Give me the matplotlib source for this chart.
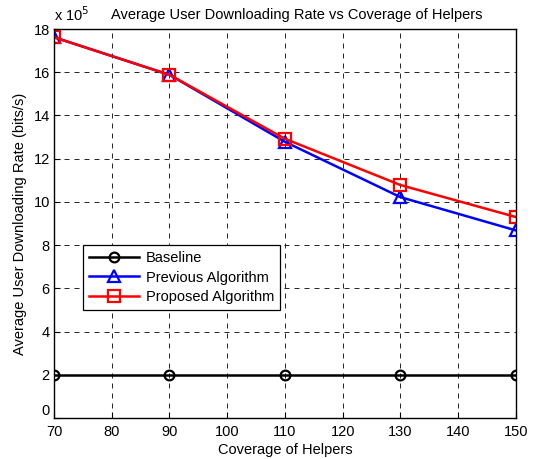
import matplotlib
matplotlib.use("Agg")
import matplotlib.pyplot as plt

plt.rcParams["font.family"] = ["Liberation Sans", "DejaVu Sans"]
plt.rcParams["font.size"] = 10

# data (rate in units of 1e5 bits/s)
coverage = [70, 90, 110, 130, 150]
baseline = [2.0, 2.0, 2.0, 2.0, 2.0]
previous = [17.62, 15.88, 12.78, 10.22, 8.68]
proposed = [17.62, 15.88, 12.92, 10.78, 9.30]

fig = plt.figure(figsize=(5.38, 4.59), dpi=100)
ax = fig.add_axes([0.1004, 0.0893, 0.8586, 0.8475])

ax.plot(coverage, baseline, color="k", marker="o", markersize=7,
        markerfacecolor="none", markeredgewidth=1.6, linewidth=1.8,
        label="Baseline")
ax.plot(coverage, previous, color="#0000ff", marker="^", markersize=8,
        markerfacecolor="none", markeredgewidth=1.6, linewidth=1.8,
        label="Previous Algorithm")
ax.plot(coverage, proposed, color="#ff0000", marker="s", markersize=8,
        markerfacecolor="none", markeredgewidth=1.6, linewidth=1.8,
        label="Proposed Algorithm")

ax.set_xlim(70, 150)
ax.set_ylim(0, 18)
ax.set_xticks(range(70, 151, 10))
ax.set_yticks(range(0, 19, 2))
ax.tick_params(direction="in", length=4, width=0.8, labelsize=10.5)
ax.tick_params(axis="x", pad=5)
ax.tick_params(axis="y", pad=3)
ax.grid(True, color="k", linestyle=(0, (6, 6)), linewidth=0.6)
for sp in ax.spines.values():
    sp.set_linewidth(1.0)

# MATLAB puts the bottom y label a little higher
ax.get_yticklabels()[0].set_verticalalignment("bottom")

ax.set_xlabel("Coverage of Helpers", fontsize=10.5, labelpad=3)
ax.set_ylabel("Average User Downloading Rate (bits/s)", fontsize=10.5,
              labelpad=5)
ax.set_title("Average User Downloading Rate vs Coverage of Helpers",
             fontsize=10.5, pad=7, x=0.525)
ax.text(0.0, 1.012, r"x 10$^5$", transform=ax.transAxes, fontsize=10.5,
        ha="left", va="bottom")

leg = ax.legend(loc="upper left", bbox_to_anchor=(0.063, 0.445),
                fancybox=False, edgecolor="k", framealpha=1,
                fontsize=10.5, handlelength=3.4, borderpad=0.4,
                labelspacing=0.4, handletextpad=0.5, borderaxespad=0)
leg.get_frame().set_linewidth(0.9)

fig.savefig("out.png", dpi=100)
